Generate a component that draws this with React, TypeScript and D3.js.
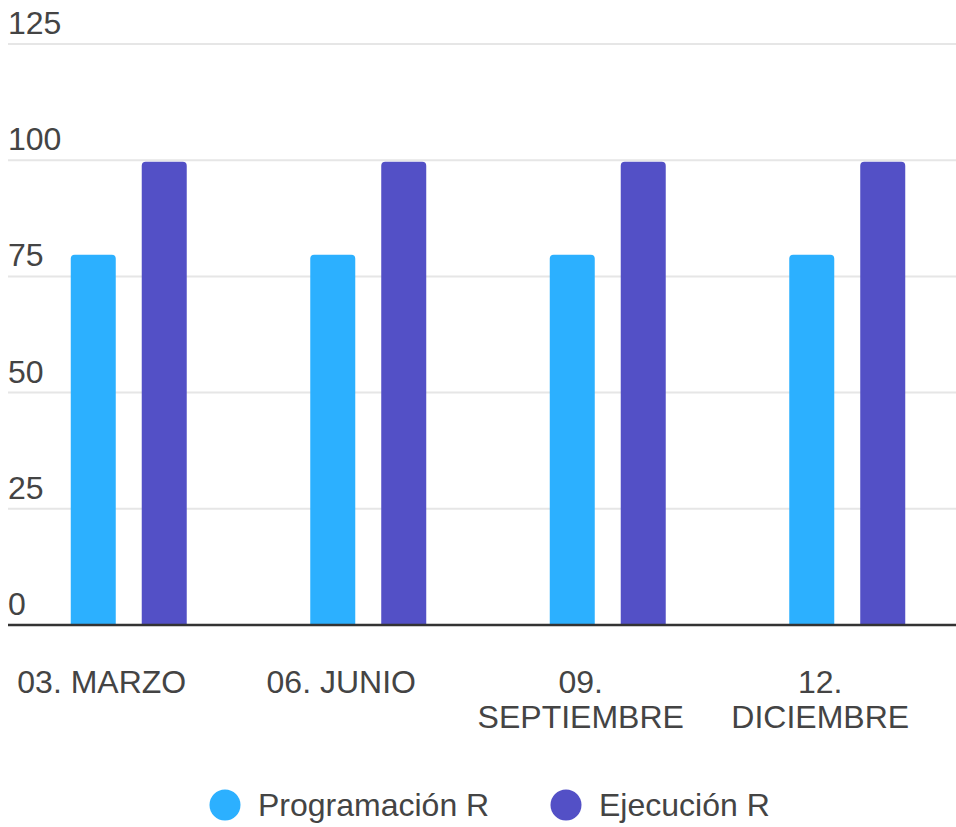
import React from "react";
import * as d3 from "d3";

const categories: string[][] = [["03. MARZO"], ["06. JUNIO"], ["09.", "SEPTIEMBRE"], ["12.", "DICIEMBRE"]];
const seriesNames = ["Programación R", "Ejecución R"];
const programacion = [80, 80, 80, 80];
const ejecucion = [100, 100, 100, 100];
const yTicks = [0, 25, 50, 75, 100, 125];
const colors = ["#2CB0FF", "#5350C6"];

const W = 956;
const H = 827;
const FONT = "'Liberation Sans', Arial, sans-serif";

function roundedTop(x: number, y: number, w: number, h: number, r: number) {
  const rr = Math.min(r, w / 2, h);
  return `M${x},${y + h}V${y + rr}Q${x},${y} ${x + rr},${y}H${x + w - rr}Q${x + w},${y} ${x + w},${y + rr}V${y + h}Z`;
}

export default function App() {
  const keys = categories.map((c) => c.join(" "));
  const x0 = d3.scaleBand<string>().domain(keys).range([9, 967]).paddingInner(0.5157).paddingOuter(0.5157 / 2);
  const x1 = d3.scaleBand<string>().domain(seriesNames).range([0, x0.bandwidth()]).paddingInner(0.366);
  const y = d3.scaleLinear().domain([0, 125]).range([625, 44]);
  const series = [programacion, ejecucion];

  return (
    <svg width={W} height={H} style={{ position: "absolute", left: 0, top: 0, background: "#fff" }}>
      {yTicks.map((t) => (
        <g key={t}>
          {t !== 0 && <line x1={8} x2={W} y1={y(t)} y2={y(t)} stroke="#e6e6e6" strokeWidth={2} />}
          <text x={8} y={y(t) - 10} fontFamily={FONT} fontSize={32} fill="#444">
            {t}
          </text>
        </g>
      ))}
      {keys.map((k, i) => (
        <g key={k}>
          {seriesNames.map((s, j) => {
            const bx = (x0(k) as number) + (x1(s) as number);
            const by = y(series[j][i]) + 1.5;
            return <path key={s} d={roundedTop(bx, by, x1.bandwidth(), y(0) - by, 4)} fill={colors[j]} />;
          })}
          <text textAnchor="middle" fontFamily={FONT} fontSize={32} fill="#444">
            {categories[i].map((line, li) => (
              <tspan key={li} x={(x0(k) as number) + x0.bandwidth() / 2 - 27} y={693 + li * 35}>
                {line}
              </tspan>
            ))}
          </text>
        </g>
      ))}
      <line x1={8} x2={W} y1={y(0)} y2={y(0)} stroke="#333" strokeWidth={2.5} />
      {seriesNames.map((s, j) => {
        const cx = [225, 566][j];
        return (
          <g key={s}>
            <circle cx={cx} cy={805} r={15.5} fill={colors[j]} />
            <text x={cx + 33} y={816} fontFamily={FONT} fontSize={32} fill="#444">
              {s}
            </text>
          </g>
        );
      })}
    </svg>
  );
}
